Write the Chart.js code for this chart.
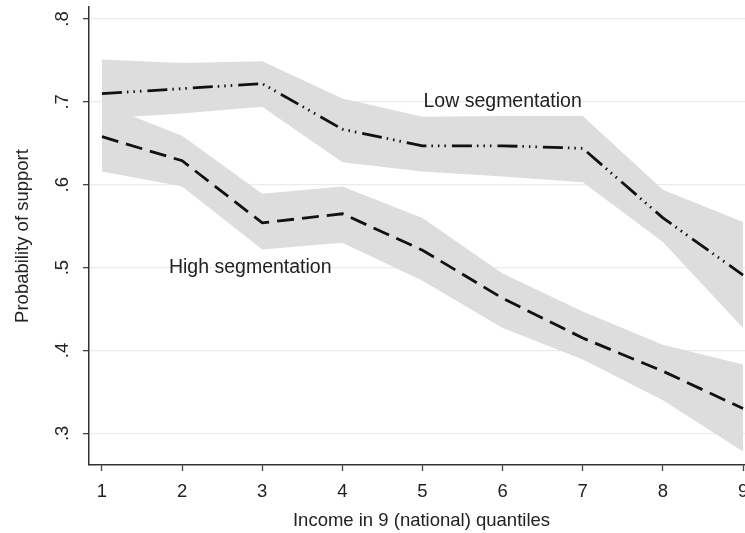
<!DOCTYPE html>
<html>
<head>
<meta charset="utf-8">
<script src="https://cdn.jsdelivr.net/npm/chart.js@4/dist/chart.umd.min.js"></script>
<style>
  html, body { margin: 0; padding: 0; background: #fff; overflow: hidden; }
  #wrap { position: relative; width: 754px; height: 533px; }
</style>
</head>
<body>
<div id="wrap"><canvas id="chart"></canvas></div>
<script>
// income quantiles and predicted probabilities
const quantiles = [1, 2, 3, 4, 5, 6, 7, 8, 9];
const lowSeg    = [0.710, 0.716, 0.722, 0.667, 0.647, 0.647, 0.644, 0.560, 0.491];
const lowUpper  = [0.751, 0.747, 0.749, 0.704, 0.682, 0.683, 0.683, 0.594, 0.555];
const lowLower  = [0.680, 0.686, 0.694, 0.627, 0.616, 0.610, 0.603, 0.531, 0.427];
const highSeg   = [0.658, 0.629, 0.554, 0.565, 0.521, 0.463, 0.415, 0.375, 0.330];
const highUpper = [0.697, 0.659, 0.589, 0.598, 0.560, 0.493, 0.447, 0.407, 0.383];
const highLower = [0.616, 0.598, 0.522, 0.530, 0.484, 0.427, 0.389, 0.340, 0.278];

const yTicks = [0.3, 0.4, 0.5, 0.6, 0.7, 0.8];
const labelText = ['Low segmentation', 'High segmentation'];
const labelX = [6.0, 2.85];
const labelY = [0.700, 0.500];

const FONT = '"Liberation Sans", Arial, Helvetica, sans-serif';
const BAND = 'rgb(221,221,221)';
const INK = '#222';

function pts(vals) {
  return quantiles.map((q, i) => ({ x: q, y: vals[i] }));
}

function band(vals, fill) {
  return {
    data: pts(vals),
    borderWidth: 0,
    pointRadius: 0,
    backgroundColor: BAND,
    fill: fill,
    order: 2
  };
}

const textLabels = {
  id: 'textLabels',
  afterDatasetsDraw(chart) {
    const ctx = chart.ctx;
    const sx = chart.scales.x, sy = chart.scales.y;
    ctx.save();
    ctx.font = '19.5px ' + FONT;
    ctx.fillStyle = INK;
    ctx.textAlign = 'center';
    ctx.textBaseline = 'middle';
    labelText.forEach((t, i) => {
      ctx.fillText(t, sx.getPixelForValue(labelX[i]), sy.getPixelForValue(labelY[i]));
    });
    ctx.restore();
  }
};

new Chart(document.getElementById('chart'), {
  type: 'line',
  data: {
    datasets: [
      band(lowUpper, false),
      band(lowLower, '-1'),
      band(highUpper, false),
      band(highLower, '-1'),
      {
        data: pts(lowSeg),
        borderColor: '#111',
        borderWidth: 2.8,
        borderDash: [20, 5, 1.5, 5, 1.5, 5, 1.5, 6],
        borderCapStyle: 'butt',
        pointRadius: 0,
        fill: false,
        tension: 0,
        order: 0
      },
      {
        data: pts(highSeg),
        borderColor: '#111',
        borderWidth: 2.8,
        borderDash: [17, 8],
        borderCapStyle: 'butt',
        pointRadius: 0,
        fill: false,
        tension: 0,
        order: 0
      }
    ]
  },
  options: {
    responsive: true,
    maintainAspectRatio: false,
    animation: false,
    layout: { padding: { top: 7, left: 0, right: 0, bottom: 0 } },
    plugins: {
      legend: { display: false },
      tooltip: { enabled: false }
    },
    scales: {
      x: {
        type: 'linear',
        min: 0.838,
        max: 9.137,
        afterBuildTicks: s => { s.ticks = quantiles.map(v => ({ value: v })); },
        afterFit: s => {
          s.height = 68;
          s.paddingLeft = 0;
          s.paddingRight = 0;
        },
        grid: {
          drawOnChartArea: false,
          color: 'rgba(0,0,0,0)',
          tickColor: '#444',
          tickLength: 6,
          tickWidth: 1.3
        },
        border: { color: '#333', width: 1.5 },
        ticks: {
          color: INK,
          font: { family: FONT, size: 18.5 },
          padding: 10,
          maxRotation: 0,
          autoSkip: false
        },
        title: {
          display: true,
          text: 'Income in 9 (national) quantiles',
          color: INK,
          font: { family: FONT, size: 18.5 },
          padding: { top: 0, bottom: 1 }
        }
      },
      y: {
        min: 0.2618,
        max: 0.8145,
        afterBuildTicks: s => { s.ticks = yTicks.map(v => ({ value: v })); },
        afterFit: s => {
          s.width = 89;
          s.paddingTop = 0;
          s.paddingBottom = 0;
        },
        grid: {
          color: '#ebebeb',
          lineWidth: 1.3,
          tickColor: '#444',
          tickLength: 6,
          tickWidth: 1.3
        },
        border: { color: '#333', width: 1.5 },
        ticks: {
          color: INK,
          font: { family: FONT, size: 18.5 },
          minRotation: 90,
          maxRotation: 90,
          crossAlign: 'center',
          padding: 12,
          callback: v => v.toFixed(1).replace(/^0/, '')
        },
        title: {
          display: true,
          text: 'Probability of support',
          color: INK,
          font: { family: FONT, size: 18.5 },
          padding: { top: 12, bottom: 0 }
        }
      }
    }
  },
  plugins: [textLabels]
});
</script>
</body>
</html>
